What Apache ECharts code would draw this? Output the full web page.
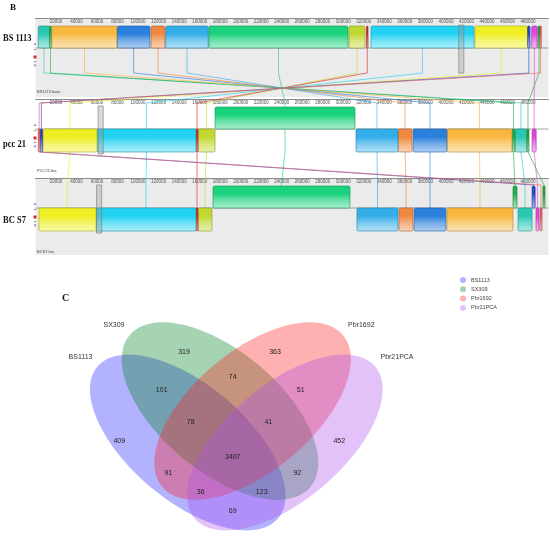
<!DOCTYPE html>
<html><head><meta charset="utf-8">
<script src="https://cdn.jsdelivr.net/npm/echarts@6/dist/echarts.min.js"></script>
<style>html,body{margin:0;padding:0;background:#fff}#c{width:550px;height:536px}</style>
</head><body><div id="c"></div><script>
// ---------------- data: genome alignment (panel B) ----------------
const AX_MIN = 0, AX_MAX = 500000, AX_STEP = 20000;
const trackNames = ['BS 1113', 'pcc 21', 'BC S7'];
const trackFiles = ['BS1113.fasta', 'PCC21.fna', 'BCS7.fna'];
const lcbColors = ['#28c8b4','#22b04a','#f8b840','#2a80dc','#f08840','#34aee8','#1ad27c',
  '#c0d830','#e02828','#22d2f2','#eeee22','#2848d0','#e048e0','#28a838','#f06060'];
// [start bp, end bp, strand]  strand 1 = forward (above centre line), -1 = reverse (below)
const bs1113Blocks = [[2700,13800,1],[13800,15500,1],[15800,79700,1],[79700,111600,1],[112600,126200,1],
  [126900,168400,1],[169100,304600,1],[305600,321200,1],[322600,324100,1],[327000,427400,1],
  [428400,479700,1],[479700,482000,1],[483600,489000,1],[489800,491700,1],[491700,493000,1]];
const pcc21Blocks = [[467300,479000,-1],[464400,467300,-1],[401000,464400,-1],[368000,401000,-1],[353300,367000,-1],
  [312400,353300,-1],[175000,311400,1],[158400,175000,-1],[156400,158400,-1],[60000,156400,-1],
  [7000,60000,-1],[4400,7000,-1],[484000,488000,-1],[479000,481000,-1],[2700,4400,-1]];
const bcs7Blocks = [[470300,484000,-1],[465400,469300,1],[401000,465400,-1],[369000,400000,-1],[354300,368000,-1],
  [313300,353300,-1],[173000,306500,1],[158400,172000,-1],[156400,158400,-1],[59000,156400,-1],
  [3400,59000,-1],[484000,487000,1],[487800,490700,-1],[494600,496600,1],[491700,493700,-1]];
const highlightBoxes = [[412500,417500],[61000,66000],[59500,64500]];

// ---------------- data: Venn diagram (panel C) ----------------
const vennSets = ['BS1113', 'SX309', 'Pbr1692', 'Pbr21PCA'];
const vennColors = ['rgba(35,35,255,0.35)','rgba(1,129,35,0.35)','rgba(255,29,29,0.35)','rgba(172,81,235,0.35)'];
const vennCounts = [409, 319, 363, 452, 101, 74, 51, 78, 41, 3407, 91, 92, 36, 123, 69];

// ---------------- layout (not data) ----------------
const TRACK_TOP = [18, 99, 178], TRACK_H = [79, 77, 77];
const BLK_TOP = 8, BLK_MID = 30, BLK_BOT = 53;
const LINK_Y = [TRACK_TOP[0]+BLK_MID, TRACK_TOP[0]+55, TRACK_TOP[1]+4, TRACK_TOP[1]+BLK_BOT, TRACK_TOP[2]+7, TRACK_TOP[2]+BLK_MID];
// ellipse: centre x, centre y, semi-major, semi-minor, tilt (deg)
const vennEllipses = [[187.7,442.5,118,58,40],[220,411,118,60,40],[252.6,411,118,60,-40],[284.9,442.5,118,58,-40]];
const vennCountPos = [[119.3,441.3],[184,351.7],[275,351.7],[339.3,441.3],[161.7,390],[232.7,377.3],[300.7,390],
  [190.7,422.3],[268.3,422.3],[232.7,456.7],[168.3,473.3],[297.3,473.3],[200.7,492.3],[261.7,492.3],[232.7,511]];
const vennNamePos = [[80.5,357.3],[114,325],[361.3,325],[397,357.3]];

function mix(hex, t, to){
  const n = parseInt(hex.slice(1),16);
  const r=(n>>16)&255, g=(n>>8)&255, b=n&255;
  const m=(a,c)=>Math.round(a+(c-a)*t);
  return 'rgb('+m(r,to[0])+','+m(g,to[1])+','+m(b,to[2])+')';
}
const W=[255,255,255], K=[0,0,0];
const trackBlocks = [bs1113Blocks, pcc21Blocks, bcs7Blocks];
const mid = b => (b[0]+b[1])/2;

const chart = echarts.init(document.getElementById('c'), null, {renderer:'canvas'});
const grids = [], xAxes = [], yAxes = [], series = [];
for (let t=0;t<3;t++){
  grids.push({left:35.5, top:TRACK_TOP[t], width:513, height:TRACK_H[t], show:true,
    backgroundColor: t===1 ? '#ffffff' : '#ebebeb', borderWidth:0});
  xAxes.push({gridIndex:t, type:'value', position:'top', min:AX_MIN, max:AX_MAX, interval:AX_STEP,
    axisLine:{show:true, onZero:false, lineStyle:{color:'#8c8c8c', width:1}},
    axisTick:{show:true, inside:true, length:2, lineStyle:{color:'#8c8c8c', width:0.5}},
    axisLabel:{show:true, inside:true, fontSize:4.5, color:'#555', margin:1.5, fontFamily:'Liberation Sans',
      showMinLabel:false, showMaxLabel:false, formatter:v=>String(v)},
    splitLine:{show:false}});
  yAxes.push({gridIndex:t, type:'value', min:0, max:TRACK_H[t], inverse:true, show:false});
}
// overlay grid for connecting lines
grids.push({left:35.5, top:0, width:513, height:260, show:false});
xAxes.push({gridIndex:3, type:'value', min:AX_MIN, max:AX_MAX, show:false});
yAxes.push({gridIndex:3, type:'value', min:0, max:260, inverse:true, show:false});
// venn grid
grids.push({left:0, top:280, width:550, height:256, show:false});
xAxes.push({gridIndex:4, type:'value', min:0, max:550, show:false});
yAxes.push({gridIndex:4, type:'value', min:280, max:536, inverse:true, show:false});

// connecting lines
series.push({type:'custom', name:'links', xAxisIndex:3, yAxisIndex:3, z:2, silent:true,
  data: lcbColors.map((c,i)=>[mid(bs1113Blocks[i]), mid(pcc21Blocks[i]), mid(bcs7Blocks[i]), i]),
  renderItem(params, api){
    const a=api.value(0), b=api.value(1), c=api.value(2), ci=api.value(3);
    const pts=[[a,LINK_Y[0]],[a,LINK_Y[1]],[b,LINK_Y[2]],[b,LINK_Y[3]],[c,LINK_Y[4]],[c,LINK_Y[5]]].map(p=>api.coord(p));
    return {type:'polyline', shape:{points:pts}, style:{stroke:lcbColors[ci], lineWidth:0.7, fill:null, opacity:0.9}};
  }});
// centre baselines
series.push({type:'custom', name:'baselines', xAxisIndex:3, yAxisIndex:3, z:3, silent:true,
  data:[[0],[1],[2]],
  renderItem(params, api){
    const t=api.value(0), y=TRACK_TOP[t]+BLK_MID;
    const p0=api.coord([AX_MIN,y]), p1=api.coord([AX_MAX,y]);
    return {type:'line', shape:{x1:p0[0],y1:p0[1],x2:p1[0],y2:p1[1]}, style:{stroke:'#666', lineWidth:0.6}};
  }});
// blocks
for (let t=0;t<3;t++){
  series.push({type:'custom', name:'lcb'+t, xAxisIndex:t, yAxisIndex:t, z:4, silent:true,
    data: trackBlocks[t].map((b,i)=>[b[0],b[1],b[2],i]),
    renderItem(params, api){
      const s=api.value(0), e=api.value(1), side=api.value(2), ci=api.value(3);
      const top = side>0?BLK_TOP:BLK_MID, bot = side>0?BLK_MID:BLK_BOT;
      const p0=api.coord([s,top]), p1=api.coord([e,bot]);
      const c=lcbColors[ci];
      return {type:'rect', shape:{x:p0[0], y:p0[1], width:Math.max(p1[0]-p0[0],1), height:p1[1]-p0[1], r:1.5},
        style:{fill:{type:'linear',x:0,y:0,x2:0,y2:1,colorStops:[
          {offset:0,color:c},{offset:0.35,color:c},{offset:0.65,color:mix(c,0.35,W)},{offset:1,color:mix(c,0.62,W)}]},
          stroke:mix(c,0.3,K), lineWidth:0.6}};
    }});
  series.push({type:'custom', name:'hl'+t, xAxisIndex:t, yAxisIndex:t, z:5, silent:true,
    data:[highlightBoxes[t]],
    renderItem(params, api){
      const p0=api.coord([api.value(0), BLK_TOP-1]), p1=api.coord([api.value(1), BLK_BOT+2]);
      return {type:'rect', shape:{x:p0[0],y:p0[1],width:p1[0]-p0[0],height:p1[1]-p0[1]},
        style:{fill:'rgba(150,150,150,0.35)', stroke:'#777', lineWidth:0.6}};
    }});
}
// venn ellipses
vennSets.forEach((name,k)=>{
  series.push({type:'custom', name:name, xAxisIndex:4, yAxisIndex:4, z:2, silent:true,
    itemStyle:{color:vennColors[k]},
    data:[vennEllipses[k]],
    renderItem(params, api){
      const cx=api.value(0), cy=api.value(1), a=api.value(2), b=api.value(3), th=api.value(4)*Math.PI/180;
      const pts=[];
      for(let i=0;i<120;i++){const u=i/120*2*Math.PI;
        pts.push(api.coord([cx+a*Math.cos(th)*Math.cos(u)-b*Math.sin(th)*Math.sin(u),
                            cy+a*Math.sin(th)*Math.cos(u)+b*Math.cos(th)*Math.sin(u)]));}
      return {type:'polygon', shape:{points:pts}, style:{fill:vennColors[k]}};
    }});
});
series.push({type:'custom', name:'counts', xAxisIndex:4, yAxisIndex:4, z:6, silent:true,
  data: vennCounts.map((v,i)=>[vennCountPos[i][0], vennCountPos[i][1], v]),
  renderItem(params, api){
    const p=api.coord([api.value(0),api.value(1)]);
    return {type:'text', x:p[0], y:p[1], style:{text:String(api.value(2)), fontSize:7, fontFamily:'Liberation Sans',
      fill:'#222', align:'center', verticalAlign:'middle'}};
  }});
series.push({type:'custom', name:'setnames', xAxisIndex:4, yAxisIndex:4, z:6, silent:true,
  data: vennSets.map((n,i)=>[vennNamePos[i][0], vennNamePos[i][1], i]),
  renderItem(params, api){
    const p=api.coord([api.value(0),api.value(1)]);
    return {type:'text', x:p[0], y:p[1], style:{text:vennSets[api.value(2)], fontSize:7, fontFamily:'Liberation Sans',
      fill:'#333', align:'center', verticalAlign:'middle'}};
  }});

const graphics = [
  {type:'text', x:10, y:8, style:{text:'B', fontSize:9, fontWeight:'bold', fontFamily:'Liberation Serif', fill:'#111', verticalAlign:'middle'}},
  {type:'text', x:62, y:298, style:{text:'C', fontSize:10, fontWeight:'bold', fontFamily:'Liberation Serif', fill:'#111', verticalAlign:'middle'}}
];
const nameY = [38, 144, 220], fileY = [91.7, 170.7, 251.7];
for (let t=0;t<3;t++){
  graphics.push({type:'text', x:3, y:nameY[t], scaleX:0.85, style:{text:trackNames[t], fontSize:10, fontWeight:'bold',
    fontFamily:'Liberation Serif', fill:'#111', verticalAlign:'middle'}});
  graphics.push({type:'text', x:37, y:fileY[t], style:{text:trackFiles[t], fontSize:4, fontFamily:'Liberation Sans', fill:'#444', verticalAlign:'middle'}});
  const b = TRACK_TOP[t];
  graphics.push({type:'polygon', shape:{points:[[33.5,b+27],[36.5,b+27],[35,b+24.5]]}, style:{fill:'#8a94b8'}});
  graphics.push({type:'rect', shape:{x:33.8,y:b+31,width:2.4,height:0.8}, style:{fill:'#777'}});
  graphics.push({type:'rect', shape:{x:33.5,y:b+37.5,width:3,height:3}, style:{fill:'#d03030'}});
  graphics.push({type:'rect', shape:{x:33.8,y:b+43,width:2.4,height:0.8}, style:{fill:'#777'}});
  graphics.push({type:'polygon', shape:{points:[[33.5,b+46.5],[36.5,b+46.5],[35,b+49]]}, style:{fill:'#8a94b8'}});
}

chart.setOption({
  backgroundColor:'#ffffff',
  animation:false,
  grid: grids, xAxis: xAxes, yAxis: yAxes, series: series,
  legend:{data:vennSets, orient:'vertical', left:460, top:277, padding:0, itemWidth:6, itemHeight:6, itemGap:3.3,
    icon:'circle', selectedMode:false, textStyle:{fontSize:5.5, color:'#444', fontFamily:'Liberation Sans'}},
  graphic: graphics
});
</script></body></html>
